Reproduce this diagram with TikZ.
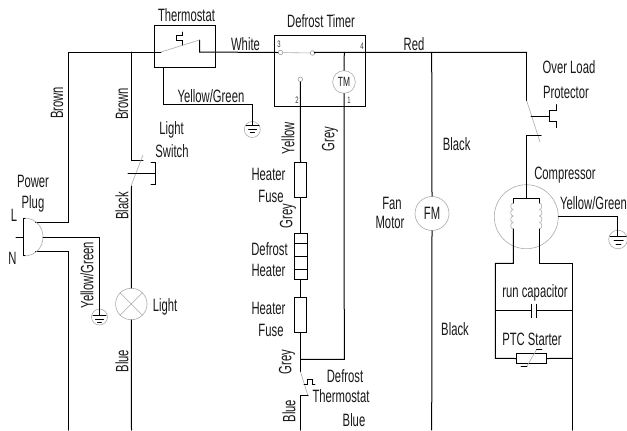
\documentclass[tikz,border=0pt]{standalone}
\usepackage{fontspec}
\setmainfont[FakeStretch=0.63]{Liberation Sans}
\usetikzlibrary{calc}
\tikzset{
  wire/.style={draw=black,line width=0.75pt,line cap=round,line join=miter},
  thin line/.style={draw=gray!65,line width=0.45pt},
  gnd/.style={draw=gray!65,line width=0.45pt,circle,inner sep=0pt,minimum size=12pt},
  ring/.style={draw=gray!65,line width=0.45pt,circle,inner sep=0pt},
  term/.style={draw=gray!75,line width=0.45pt,circle,inner sep=0pt,minimum size=3.4pt},
  part/.style={draw=black,line width=0.75pt,inner sep=0pt,rectangle},
  lab/.style={inner sep=0pt,font=\fontsize{13.4pt}{15pt}\selectfont,text=black!90},
  vlab/.style={lab,rotate=90},
  tiny/.style={inner sep=0pt,font=\fontsize{7pt}{8pt}\selectfont,text=black!80},
}
\begin{document}
\begin{tikzpicture}[x=0.75pt,y=-0.75pt]
\useasboundingbox (0,0) rectangle (627,430);
\fill[white] (0,0) rectangle (627,430);
% component nodes
\node[part,minimum width=45.75pt,minimum height=31.5pt] (thermo) at (185,46.5) {};
\node[part,minimum width=68.25pt,minimum height=53.25pt] (timer) at (319.8,70.8) {};
\node[ring,minimum size=17pt] (tm) at (344,82) {};
\node[term] (t3) at (280.5,52.5) {};
\node[term] (t4) at (312.5,53) {};
\node[term] (t2) at (300.3,79.3) {};
\node[part,minimum width=9.3pt,minimum height=26pt] (fuseA) at (300.5,180) {};
\node[part,minimum width=10pt,minimum height=34.5pt] (heater) at (301,256.3) {};
\node[part,minimum width=9.3pt,minimum height=26pt] (fuseB) at (300.5,314.8) {};
\node[ring,minimum size=23.6pt] (lamp) at (131.3,304) {};
\node[ring,minimum size=25.5pt] (fm) at (432,213.5) {};
\node[ring,minimum size=48pt] (comp) at (526.3,216.7) {};
\node[part,minimum width=22.8pt,minimum height=7.8pt] (ptc) at (531.5,358.5) {};
\node[gnd] (g1) at (252.3,129.5) {};
\node[gnd] (g2) at (99.5,317) {};
\node[gnd,minimum size=14pt] (g3) at (618,239.5) {};
% named points
\coordinate (topL) at (68.5,52);
\coordinate (thIn) at (161,52);
\coordinate (thOut) at (199.5,52);
\coordinate (thArm) at (199.5,40);
\coordinate (tap) at (131.5,52);
\coordinate (top4) at (314.5,52.3);
\coordinate (tmtop) at (344.3,52.3);
\coordinate (fan) at (431.7,52.3);
\coordinate (olp) at (526.7,52.3);
\coordinate (botA) at (68.5,430);
\coordinate (botB) at (131.5,430);
\coordinate (botC) at (300.5,430);
\coordinate (botD) at (431.7,430);
\coordinate (botE) at (572.7,430);
% heater dividers
\draw[wire] (294.3,243.3) -- (307.7,243.3) (294.3,256.3) -- (307.7,256.3) (294.3,269.3) -- (307.7,269.3);
% main wires
\draw[wire] (botA) -- (68.5,251.3) -- (35.7,251.3);
\draw[wire] (35.7,222.3) -- (68.5,222.3) -- (topL) -- (thIn);
\draw[wire] (thArm) -- (thOut) -- (t3.west);
\draw[wire] (t4.east) -- (top4) -- (olp);
\draw[wire] (tmtop) -- (tm.north);
\draw[wire] (tm.south) -- (344.3,359.3) -- (300.5,359.3);
\draw[wire] (fan) -- (fm.north);
\draw[wire] (fm.south) -- (botD);
\draw[wire] (tap) -- (131.5,160) -- (143,160);
\draw[wire] (131.5,186) -- (lamp.north);
\draw[wire] (lamp.south) -- (botB);
% thermostat to ground
\draw[wire] (163.5,67.5) -- (163.5,104.5) -- (252.5,104.5) -- (252.5,125);
\draw[wire] (246,125) -- (259,125) (248.5,129) -- (256.5,129);
\draw[wire,line width=0.6pt] (250.3,132.6) -- (254.5,132.6);
% thermostat contacts
\draw[thin line] (thIn) -- (thArm);
\draw[wire,line width=0.6pt] (182.3,32) -- (182.3,35.7) -- (176.7,35.7) -- (176.7,40.7) -- (182.3,40.7) -- (182.3,45);
% timer contacts
\draw[thin line] (t3) -- (t4);
\draw[wire] (t2.south) -- (fuseA.north);
\draw[wire] (fuseA.south) -- (300.5,233.3);
\draw[wire] (300.5,279.3) -- (fuseB.north);
\draw[wire] (fuseB.south) -- (300.5,371.7);
% defrost thermostat
\draw[thin line] (300.5,371.7) -- (308,396);
\draw[wire] (botC) -- (300.5,395.3) -- (308,395.3);
\draw[wire,line width=0.6pt] (304,384) -- (307,384) -- (307,379.5) -- (312,379.5) -- (312,384) -- (315,384);
% light switch
\draw[thin line] (143,155) -- (131,186);
\draw[wire] (128,173) -- (155.5,173);
\draw[wire] (151,162.5) -- (155.5,162.5) -- (155.5,184) -- (151,184);
% lamp cross
\draw[thin line] (lamp.north west) -- (lamp.south east) (lamp.north east) -- (lamp.south west);
% plug
\draw[thin line] (23.5,218) .. controls (49.5,218) and (49.5,256) .. (23.5,256);
\draw[wire] (25,218) -- (23.5,218) -- (23.5,255.5) -- (25,255.5);
\draw[wire] (16,237.5) -- (23.5,237.5);
\draw[wire] (43,237.5) -- (99.5,237.5) -- (99.5,315);
\draw[wire] (93,315) -- (106,315) (95.5,319) -- (103.5,319);
\draw[wire,line width=0.6pt] (97.5,322.5) -- (101.5,322.5);
% overload protector
\draw[wire] (olp) -- (526.7,100.7);
\draw[thin line] (526.7,100.7) -- (540,142);
\draw[wire] (541,135.3) -- (526.7,135.3) -- (526.7,198.3);
\draw[wire] (531,116) -- (549.3,116);
\draw[wire] (556.7,104.7) -- (556.7,110) -- (549.3,110) -- (549.3,121.7) -- (556.7,121.7) -- (556.7,127.7);
% compressor windings
\draw[wire] (513.3,203) -- (513.3,198.3) -- (539.3,198.3) -- (539.3,203);
\foreach \yy in {203,209.5,216,222.5}{
  \draw[thin line] (513.3,\yy) .. controls (509.8,\yy) and (509.8,\yy+6.5) .. (513.3,\yy+6.5);
  \draw[thin line] (539.3,\yy) .. controls (542.8,\yy) and (542.8,\yy+6.5) .. (539.3,\yy+6.5);
}
\draw[wire] (513.3,229) -- (513.3,263.3) -- (495.3,263.3) -- (495.3,358.3) -- (ptc.west);
\draw[wire] (539.3,229) -- (539.3,263.3) -- (572.7,263.3) -- (botE);
\draw[wire] (ptc.east) -- (572.7,358.3);
% run capacitor
\draw[wire] (495.3,310.3) -- (531,310.3) (536.7,310.3) -- (572.7,310.3);
\draw[wire,line width=0.6pt] (531,304.3) -- (531,317.7) (536.7,304.3) -- (536.7,317.7);
% ptc slash
\draw[thin line] (536.7,349.3) -- (526.7,366.5);
\draw[wire,line width=0.6pt] (536.5,349.3) -- (542,349.3) (521,366.7) -- (527,366.7);
% compressor ground
\draw[wire] (comp.east) -- (617.3,216.7) -- (617.3,236);
\draw[wire] (610,236) -- (626,236) (614,240) -- (623,240);
\draw[wire,line width=0.6pt] (616,244) -- (621,244);
% labels
\node[lab] (l1) at (186.5,15) {Thermostat};
\node[lab] (l2) at (245.5,44) {White};
\node[lab] (l3) at (211,96) {Yellow/Green};
\node[lab] (l4) at (321,21) {Defrost Timer};
\node[lab] (l5) at (414,44) {Red};
\node[vlab] (l6) at (57,103) {Brown};
\node[vlab] (l7) at (122,104) {Brown};
\node[lab] (l8) at (171.5,130) {Light};
\node[lab] (l9) at (172,151) {Switch};
\node[lab] (l10) at (33,181) {Power};
\node[lab] (l11) at (33,204) {Plug};
\node[lab] (l12) at (14,215.5) {L};
\node[lab] (l13) at (12.5,258.5) {N};
\node[vlab] (l14) at (122,206) {Black};
\node[vlab] (l15) at (87,275) {Yellow/Green};
\node[lab] (l16) at (165,307) {Light};
\node[vlab] (l17) at (122,361) {Blue};
\node[vlab] (l18) at (288,138) {Yellow};
\node[vlab] (l19) at (330,139) {Grey};
\node[lab] (l20) at (268.5,174) {Heater};
\node[lab] (l21) at (271,196) {Fuse};
\node[vlab] (l22) at (288,216) {Grey};
\node[lab] (l23) at (269.5,249) {Defrost};
\node[lab] (l24) at (268.5,270) {Heater};
\node[lab] (l25) at (268.5,308) {Heater};
\node[lab] (l26) at (271,330) {Fuse};
\node[vlab] (l27) at (287,362) {Grey};
\node[lab] (l28) at (345,376) {Defrost};
\node[lab] (l29) at (341,396) {Thermostat};
\node[vlab] (l30) at (289,411) {Blue};
\node[lab] (l31) at (354,420.5) {Blue};
\node[lab] (l32) at (392,203) {Fan};
\node[lab] (l33) at (390,222) {Motor};
\node[lab] (l34) at (456.7,144) {Black};
\node[lab] (l35) at (455,329) {Black};
\node[lab] (l36) at (569,67) {Over Load};
\node[lab] (l37) at (566,92) {Protector};
\node[lab] (l38) at (565,175) {Compressor};
\node[lab] (l39) at (593.5,203) {Yellow/Green};
\node[lab] (l40) at (535,293) {run capacitor};
\node[lab] (l41) at (532,339) {PTC Starter};
\node[lab] at (fm) {FM};
\node[lab,font=\fontsize{10pt}{12pt}\selectfont] at (tm) {TM};
\node[tiny] (n3) at (279,44.5) {3};
\node[tiny] (n4) at (362,46) {4};
\node[tiny] (n2) at (297,100) {2};
\node[tiny] (n1) at (349,100) {1};
\end{tikzpicture}
\end{document}
